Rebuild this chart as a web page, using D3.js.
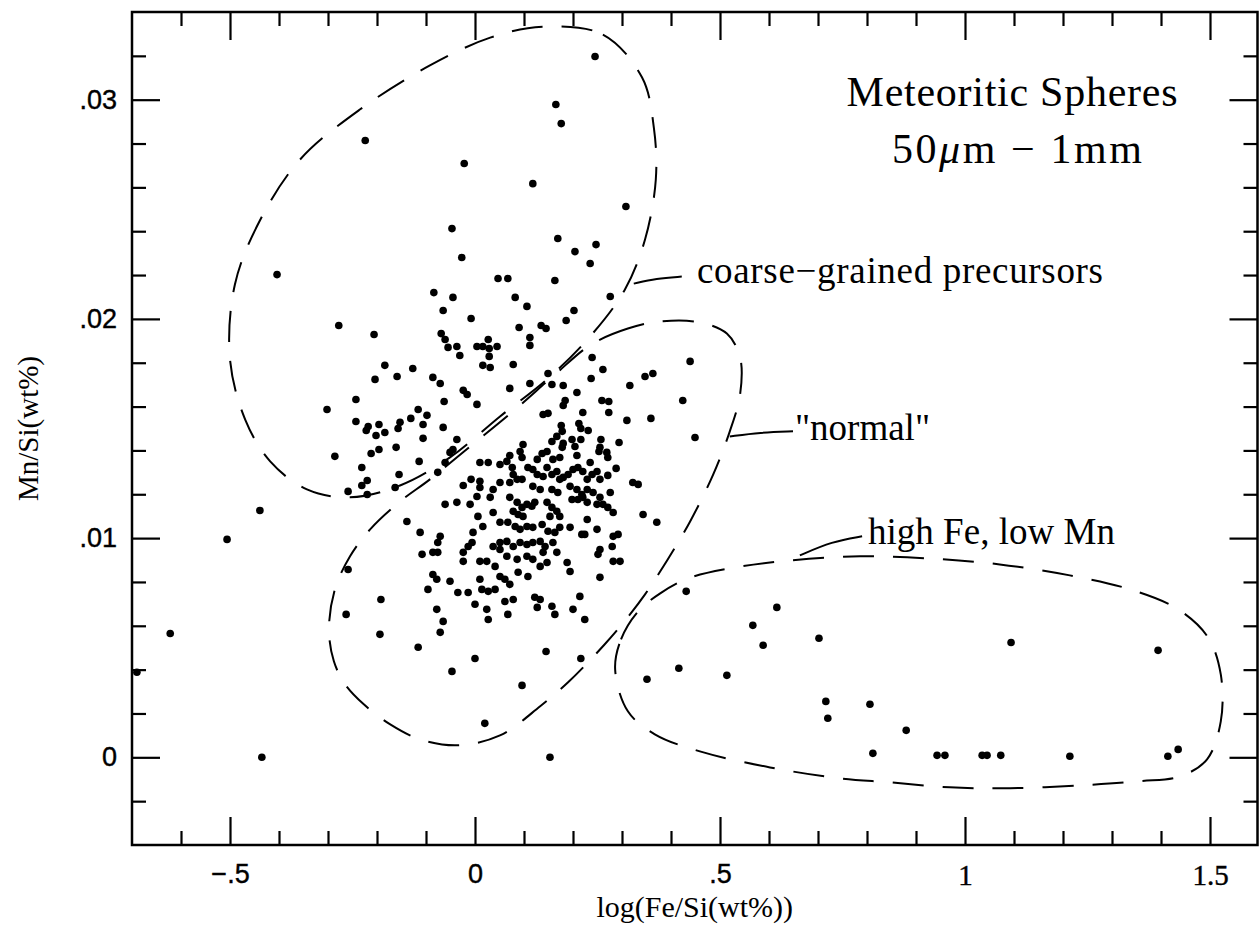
<!DOCTYPE html>
<html><head><meta charset="utf-8">
<script src="https://cdn.jsdelivr.net/npm/d3@7"></script>
<style>body{margin:0;background:#fff}</style>
</head><body><svg id="c" width="1259" height="926"></svg>
<script>
// ---------- axes ----------
const xDomain = [-0.7, 1.6];
const yDomain = [-0.004, 0.034];
const xMajor = [-0.5, 0, 0.5, 1, 1.5];
const xMajorLabels = ["\u2212.5", "0", ".5", "1", "1.5"];
const yMajor = [0, 0.01, 0.02, 0.03];
const yMajorLabels = ["0", ".01", ".02", ".03"];
const xTitle = "log(Fe/Si(wt%))";
const yTitle = "Mn/Si(wt%)";

// ---------- data: [log(Fe/Si), Mn/Si] ----------
const topPoints = [[-0.224,0.02814],[-0.022,0.02709],[-0.404,0.02202],[-0.047,0.02412],[-0.027,0.0228],[0.047,0.02184],[-0.084,0.0212],[-0.045,0.02098],[0.245,0.03197],[0.165,0.02978],[0.176,0.02891],[0.118,0.02617],[0.308,0.02513],[0.169,0.02367],[0.247,0.02339],[0.204,0.02307],[0.235,0.02253],[0.067,0.02184],[0.163,0.02175],[0.082,0.02098],[0.276,0.02102]];
const upperPoints = [[-0.065,0.02038],[-0.008,0.02002],[-0.278,0.0197],[-0.206,0.01929],[-0.069,0.01933],[-0.061,0.01906],[-0.055,0.0187],[-0.037,0.01874],[-0.031,0.01833],[0.004,0.01874],[0.016,0.01874],[0.027,0.01906],[0.029,0.01865],[0.045,0.01874],[0.029,0.01829],[0.016,0.01788],[0.031,0.01778],[-0.184,0.01788],[-0.127,0.01774],[-0.204,0.01724],[-0.159,0.01737],[-0.086,0.01733],[-0.243,0.01632],[-0.302,0.01587],[-0.243,0.01532],[-0.218,0.01509],[-0.222,0.01491],[-0.196,0.01518],[-0.202,0.01468],[-0.184,0.01482],[-0.161,0.01414],[-0.196,0.01404],[-0.212,0.01386],[-0.286,0.01373],[-0.231,0.01322],[-0.155,0.0129],[-0.22,0.01263],[-0.231,0.0124],[-0.163,0.01231],[-0.259,0.01213],[-0.22,0.01199],[-0.157,0.015],[0.106,0.02057],[0.202,0.02038],[0.186,0.01993],[0.09,0.01961],[0.135,0.0197],[0.145,0.01956],[0.112,0.01915],[0.112,0.01879],[0.239,0.01824],[0.261,0.01769],[0.078,0.01792],[0.149,0.01751],[0.237,0.01728],[0.347,0.01737],[0.363,0.01751],[0.424,0.01628],[0.439,0.01806],[0.449,0.01459]];
const clusterPoints = [[-0.071,0.01705],[-0.024,0.01674],[-0.016,0.01655],[0.071,0.01683],[0.112,0.01705],[0.157,0.01701],[0.180,0.01696],[0.208,0.01664],[0.316,0.01696],[0.259,0.01628],[0.273,0.01623],[0.184,0.01628],[0.180,0.01605],[0.220,0.01573],[0.273,0.01573],[0.139,0.01564],[0.149,0.01569],[0.310,0.01537],[0.359,0.01546],[-0.116,0.01587],[-0.098,0.0156],[-0.131,0.01546],[-0.153,0.01528],[-0.106,0.01518],[-0.065,0.01505],[-0.063,0.01623],[0.004,0.0161],[0.176,0.01514],[0.178,0.01487],[0.212,0.01523],[0.216,0.015],[0.231,0.01491],[0.257,0.0145],[0.255,0.01414],[0.294,0.01436],[0.157,0.01441],[0.167,0.01464],[0.180,0.01432],[0.198,0.0145],[0.216,0.0145],[0.178,0.01414],[0.204,0.01418],[0.253,0.01395],[0.269,0.01391],[0.271,0.01368],[-0.106,0.01455],[-0.037,0.0145],[-0.045,0.01404],[-0.051,0.01391],[0.147,0.01395],[0.137,0.01386],[0.098,0.01427],[0.092,0.01395],[0.096,0.01368],[0.071,0.01377],[0.065,0.0135],[0.208,0.01377],[0.127,0.01359],[0.159,0.01359],[0.173,0.01368],[0.235,0.01345],[0.010,0.01345],[0.027,0.01345],[0.051,0.01336],[-0.114,0.0135],[-0.061,0.01345],[-0.076,0.013],[0.288,0.01318],[0.076,0.01322],[0.078,0.0129],[0.086,0.01268],[0.108,0.01322],[0.118,0.01313],[0.127,0.0129],[0.139,0.01281],[0.147,0.01322],[0.157,0.0129],[0.167,0.01304],[0.173,0.01268],[0.180,0.01277],[0.190,0.0129],[0.200,0.01313],[0.210,0.01322],[0.220,0.01304],[0.229,0.01268],[0.239,0.0129],[0.249,0.01304],[0.255,0.01268],[0.271,0.01286],[-0.008,0.01268],[-0.024,0.0124],[0.010,0.01259],[0.037,0.01222],[0.051,0.01254],[0.071,0.01254],[0.096,0.01268],[0.118,0.01236],[0.133,0.01222],[0.157,0.01222],[0.169,0.01208],[0.194,0.01236],[0.208,0.01222],[0.218,0.01199],[0.229,0.01222],[0.241,0.01208],[0.255,0.01186],[0.276,0.01208],[0.322,0.01254],[0.333,0.01245],[0.010,0.01231],[0.031,0.01186],[0.004,0.0119],[-0.061,0.01154],[-0.037,0.01163],[-0.010,0.01154],[0.071,0.01186],[0.086,0.01163],[0.096,0.0114],[0.106,0.01154],[0.116,0.01145],[0.122,0.01163],[0.147,0.01163],[0.157,0.0114],[0.167,0.01122],[0.153,0.01099],[0.173,0.01099],[0.078,0.01122],[0.088,0.01108],[0.098,0.01099],[0.198,0.01176],[0.210,0.01176],[0.220,0.01186],[0.229,0.01163],[0.249,0.01154],[0.261,0.01154],[0.271,0.0114],[0.282,0.01117],[0.006,0.01099],[0.037,0.01117],[0.051,0.01072],[0.067,0.01072],[0.082,0.01053],[0.092,0.0104],[0.106,0.01053],[0.118,0.01049],[0.137,0.01062],[0.149,0.01031],[0.163,0.01026],[0.173,0.01049],[0.194,0.01049],[0.218,0.01017],[0.224,0.01017],[0.229,0.01085],[0.249,0.0104],[0.282,0.01008],[0.292,0.01017],[0.343,0.01108],[0.371,0.01072],[-0.139,0.01076],[-0.112,0.01026],[-0.071,0.01008],[0.016,0.01053],[-0.004,0.01026],[-0.076,0.0098],[-0.086,0.00935],[-0.076,0.00935],[-0.108,0.00926],[-0.006,0.0098],[-0.014,0.00962],[-0.024,0.00935],[-0.024,0.00894],[0.010,0.00894],[0.024,0.00894],[0.041,0.00871],[0.051,0.0098],[0.065,0.00985],[0.078,0.00962],[0.092,0.0098],[0.106,0.00971],[0.118,0.0098],[0.133,0.00985],[0.143,0.00962],[0.159,0.0098],[0.167,0.00935],[0.139,0.00935],[0.106,0.00917],[0.086,0.00903],[0.118,0.00903],[0.147,0.00889],[0.188,0.00889],[0.194,0.00848],[0.255,0.00948],[0.251,0.00926],[0.280,0.00962],[0.282,0.00894],[0.296,0.00894],[0.051,0.00948],[0.065,0.00917],[0.037,0.00962],[-0.086,0.00834],[-0.078,0.00812],[-0.096,0.00766],[-0.051,0.00803],[-0.035,0.00752],[-0.014,0.00752],[0.010,0.00812],[0.014,0.00766],[0.027,0.00757],[0.041,0.00766],[0.051,0.00825],[0.061,0.00812],[0.071,0.00789],[0.088,0.00844],[0.108,0.00825],[0.133,0.00871],[0.000,0.00698],[0.024,0.00675],[0.027,0.00629],[-0.078,0.00675],[-0.065,0.0062],[-0.071,0.0057],[0.061,0.00711],[0.078,0.0072],[0.067,0.00652],[0.122,0.0073],[0.133,0.0072],[0.127,0.00684],[0.157,0.00689],[0.163,0.00652],[0.200,0.00675],[0.214,0.00734],[0.224,0.00629],[0.255,0.00821]];
const lowerPoints = [[0.431,0.00757],[0.145,0.00483],[0.216,0.00451],[0.096,0.00328],[0.351,0.00356],[0.416,0.00406],[-0.259,0.00857],[-0.192,0.0072],[-0.263,0.00652],[-0.194,0.00561],[-0.116,0.00502],[0.000,0.00451],[-0.047,0.00392],[0.153,0.0],[0.020,0.00155]];
const outlierPoints = [[-0.622,0.00565],[-0.690,0.00388],[-0.435,0.0],[-0.506,0.00994],[-0.439,0.01126]];
const highFePoints = [[0.514,0.00374],[0.567,0.00602],[0.588,0.00511],[0.616,0.00684],[0.702,0.00543],[0.716,0.00255],[0.720,0.00178],[0.806,0.00242],[0.812,0.00018],[0.880,0.00123],[0.943,0.00009],[0.959,0.00009],[1.035,0.00009],[1.045,0.00009],[1.073,0.00009],[1.214,0.00005],[1.414,0.00005],[1.435,0.00036],[1.094,0.00524],[1.394,0.00488]];

// ---------- group outlines (dashed) ----------
const coarseOutline = [[0.139,0.03333],[0.261,0.03297],[0.341,0.03101],[0.365,0.02873],[0.369,0.02636],[0.347,0.02362],[0.306,0.02134],[0.235,0.0192],[0.149,0.01728],[0.051,0.01555],[-0.051,0.01368],[-0.153,0.0124],[-0.255,0.01186],[-0.343,0.01222],[-0.418,0.0135],[-0.469,0.01541],[-0.500,0.01815],[-0.490,0.02157],[-0.439,0.02449],[-0.357,0.02727],[-0.235,0.02955],[-0.092,0.03156],[0.031,0.03283]];
const normalOutline = [[0.378,0.01988],[0.312,0.01956],[0.237,0.01883],[0.163,0.01746],[0.082,0.01587],[-0.010,0.01418],[-0.092,0.01268],[-0.153,0.01167],[-0.214,0.0104],[-0.255,0.00917],[-0.286,0.00766],[-0.298,0.00584],[-0.288,0.00438],[-0.265,0.00333],[-0.227,0.00242],[-0.173,0.0015],[-0.112,0.00082],[-0.035,0.00055],[0.051,0.001],[0.133,0.00233],[0.190,0.00342],[0.263,0.00511],[0.310,0.00634],[0.347,0.00743],[0.392,0.00898],[0.439,0.01076],[0.486,0.0129],[0.520,0.01487],[0.541,0.01655],[0.541,0.01824],[0.514,0.01933],[0.459,0.01984]];
const highFeOutline = [[0.286,0.00401],[0.298,0.00538],[0.333,0.00666],[0.378,0.00748],[0.435,0.00816],[0.520,0.00862],[0.643,0.00898],[0.786,0.00917],[0.929,0.00907],[1.071,0.0088],[1.214,0.0083],[1.337,0.00766],[1.435,0.00675],[1.496,0.00547],[1.522,0.00378],[1.522,0.00164],[1.494,-0.00009],[1.439,-0.00087],[1.357,-0.00109],[1.235,-0.00128],[1.092,-0.00141],[0.969,-0.00137],[0.847,-0.00114],[0.745,-0.00096],[0.602,-0.00046],[0.459,0.00027],[0.367,0.00105],[0.312,0.0021]];

// labels with leader lines (data coordinates)
const labelTexts = ["coarse\u2212grained precursors", "\"normal\"", "high Fe, low Mn"];
const labelAnchors = [[0.453,0.02166],[0.653,0.01446],[0.802,0.00971]];
const leaderLines = [
  [[0.324,0.02161],[0.37,0.02185],[0.422,0.02193]],
  [[0.520,0.01464],[0.582,0.01482],[0.649,0.01487]],
  [[0.663,0.00921],[0.729,0.00985],[0.790,0.01008]]
];
const titleLines = ["Meteoritic Spheres", "50\u03BCm \u2212 1mm"];
const titleAnchors = [[1.096,0.02969],[1.106,0.02713]];

// ---------- drawing ----------
const svg = d3.select("#c");
svg.append("rect").attr("width",1259).attr("height",926).attr("fill","#fff");
const x = d3.scaleLinear().domain(xDomain).range([132, 1259]);
const y = d3.scaleLinear().domain(yDomain).range([845, 12]);
const X0 = 132, X1 = 1257.5, Y0 = 845, Y1 = 12;

const xMinor = d3.range(-6, 16).map(i => i / 10).filter(v => Math.abs(v*2 - Math.round(v*2)) > 1e-6);
const yMinor = d3.range(-1, 17).map(i => i * 0.002).filter(v => Math.abs(v*100 - Math.round(v*100)) > 1e-6);

function styleAxis(g){ g.select(".domain").remove(); g.selectAll(".tick line").attr("stroke","#000").attr("stroke-width",2.2); }
const sans = "'Liberation Sans', Arial, sans-serif";
const serif = "'Liberation Serif', 'Times New Roman', serif";

// bottom
svg.append("g").attr("transform",`translate(0,${Y0})`).call(d3.axisBottom(x).tickValues(xMinor).tickSize(-14).tickFormat("")).call(styleAxis);
const bx = svg.append("g").attr("transform",`translate(0,${Y0})`)
  .call(d3.axisBottom(x).tickValues(xMajor).tickSize(-28).tickPadding(19).tickFormat((d,i)=>xMajorLabels[i])).call(styleAxis);
bx.selectAll(".tick text").attr("fill","#000")
  .attr("font-family",(d)=> d>=1 ? serif : sans)
  .attr("font-size",(d)=> d>=1 ? 29 : 27)
  .attr("stroke","#000").attr("stroke-width",0.4);
// top
svg.append("g").attr("transform",`translate(0,${Y1})`).call(d3.axisTop(x).tickValues(xMinor).tickSize(-14).tickFormat("")).call(styleAxis);
svg.append("g").attr("transform",`translate(0,${Y1})`).call(d3.axisTop(x).tickValues(xMajor).tickSize(-28).tickFormat("")).call(styleAxis);
// left
svg.append("g").attr("transform",`translate(${X0},0)`).call(d3.axisLeft(y).tickValues(yMinor).tickSize(-14).tickFormat("")).call(styleAxis);
const ly = svg.append("g").attr("transform",`translate(${X0},0)`)
  .call(d3.axisLeft(y).tickValues(yMajor).tickSize(-28).tickPadding(15).tickFormat((d,i)=>yMajorLabels[i])).call(styleAxis);
ly.selectAll(".tick text").attr("fill","#000").attr("font-family",sans).attr("font-size",27)
  .attr("stroke","#000").attr("stroke-width",0.4);
// right
svg.append("g").attr("transform",`translate(${X1},0)`).call(d3.axisRight(y).tickValues(yMinor).tickSize(-14).tickFormat("")).call(styleAxis);
svg.append("g").attr("transform",`translate(${X1},0)`).call(d3.axisRight(y).tickValues(yMajor).tickSize(-28).tickFormat("")).call(styleAxis);

// frame
svg.append("rect").attr("x",X0).attr("y",Y1).attr("width",X1-X0).attr("height",Y0-Y1)
  .attr("fill","none").attr("stroke","#000").attr("stroke-width",2.5);

// axis titles
svg.append("text").attr("x",(X0+X1)/2).attr("y",917).attr("text-anchor","middle")
  .attr("font-family",serif).attr("font-size",30).text(xTitle);
svg.append("text").attr("transform",`translate(38,${(Y0+Y1)/2}) rotate(-90)`).attr("text-anchor","middle")
  .attr("font-family",serif).attr("font-size",29).text(yTitle);

// outlines
const line = d3.line().x(d=>x(d[0])).y(d=>y(d[1])).curve(d3.curveCatmullRomClosed.alpha(0.5));
[coarseOutline, normalOutline, highFeOutline].forEach(o=>{
  svg.append("path").attr("d", line(o)).attr("fill","none").attr("stroke","#000")
    .attr("stroke-width",2).attr("stroke-dasharray","31,19");
});
const lead = d3.line().x(d=>x(d[0])).y(d=>y(d[1])).curve(d3.curveBasis);
leaderLines.forEach(l=>{
  svg.append("path").attr("d", lead(l)).attr("fill","none").attr("stroke","#000").attr("stroke-width",2);
});

// points
const allPoints = [].concat(topPoints, upperPoints, clusterPoints, lowerPoints, outlierPoints, highFePoints);
svg.append("g").selectAll("circle").data(allPoints).join("circle")
  .attr("cx",d=>x(d[0])).attr("cy",d=>y(d[1])).attr("r",3.8).attr("fill","#000");

// annotation labels
const labelWidths = [406, null, 247];
labelTexts.forEach((t,i)=>{
  const tx = svg.append("text").attr("x",x(labelAnchors[i][0])).attr("y",y(labelAnchors[i][1]))
    .attr("font-family",serif).attr("font-size",37).text(t);
  if (labelWidths[i]) tx.attr("textLength",labelWidths[i]).attr("lengthAdjust","spacing");
});
// title
svg.append("text").attr("x",x(titleAnchors[0][0])).attr("y",y(titleAnchors[0][1])).attr("text-anchor","middle")
  .attr("font-family",serif).attr("font-size",42).attr("textLength",331).attr("lengthAdjust","spacing").text(titleLines[0]);
const t2 = svg.append("text").attr("x",x(titleAnchors[1][0])).attr("y",y(titleAnchors[1][1])).attr("text-anchor","middle")
  .attr("font-family",serif).attr("font-size",42).attr("textLength",250).attr("lengthAdjust","spacing");
t2.append("tspan").text("50");
t2.append("tspan").attr("font-style","italic").text("\u03BC");
t2.append("tspan").text("m \u2212 1mm");
</script></body></html>
